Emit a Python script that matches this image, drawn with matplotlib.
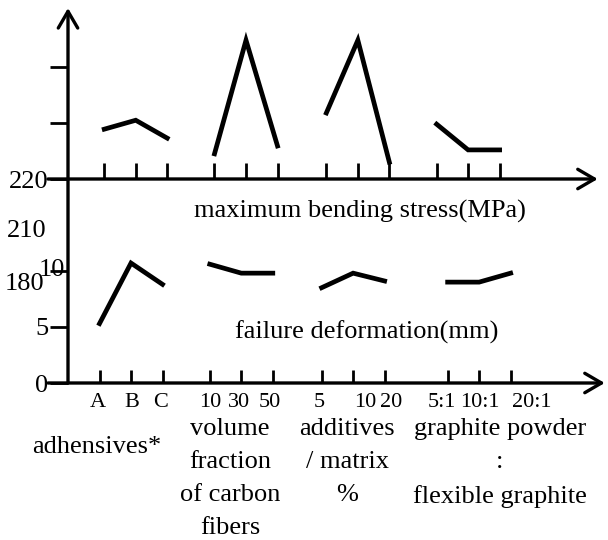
import matplotlib
matplotlib.use('Agg')
import matplotlib.pyplot as plt
from matplotlib.transforms import ScaledTranslation

plt.rcParams['font.family'] = ['Liberation Serif', 'DejaVu Serif']

# values
factor_names = ['adhensives*',
                'volume\nfraction\nof carbon\nfibers',
                'additives\n/ matrix\n%',
                'graphite powder\n:\nflexible graphite']
level_labels = ['A', 'B', 'C', '10', '30', '50', '5', '10', '20', '5:1', '10:1', '20:1']
bending_stress = [228.9, 230.5, 227.3, 224.5, 244.8, 225.9, 231.8, 244.8, 223.0, 229.8, 225.2, 225.2]  # MPa
failure_deform = [5.3, 10.7, 8.8, 10.6, 9.8, 9.8, 8.5, 9.8, 9.1, 9.0, 9.0, 9.8]  # mm

# layout (x in units of one level step)
top_start = [1.15, 4.65, 8.2, 11.7]
bot_start = [1.0, 4.5, 8.05, 12.05]
name_x = [0.92, 5.14, 8.86, 13.71]
name_drop = [46, 25, 25, 25]  # points below the axis
name_va = ['center', 'top', 'top', 'top']
# small sideways nudges of the level labels, in pixels (as in the scan)
label_nudge = [-2, 1, -2, 0, -2, -3, -2, 12, 6, -6, 1, 21]

W, H = 608, 540


def px_box(x0, y0, x1, y1):
    return [x0 / W, 1 - y1 / H, (x1 - x0) / W, (y1 - y0) / H]


fig = plt.figure(figsize=(W / 100, H / 100), dpi=100)
ax_top = fig.add_axes(px_box(68, 10, 608, 179))
ax_bot = fig.add_axes(px_box(68, 179, 608, 383))

for ax in (ax_top, ax_bot):
    for s in ax.spines.values():
        s.set_visible(False)
    ax.patch.set_alpha(0)
    ax.set_xlim(0, 17.14)

ax_top.set_ylim(220, 250.2)
ax_bot.set_ylim(0, 18.2)

top_x = [top_start[g] + k for g in range(4) for k in range(3)]
bot_x = [bot_start[g] + k for g in range(4) for k in range(3)]

# one short polyline per factor
for g in range(4):
    sl = slice(3 * g, 3 * g + 3)
    ax_top.plot(top_x[sl], bending_stress[sl], color='black', lw=3.4,
                solid_joinstyle='miter', clip_on=False)
    ax_bot.plot(bot_x[sl], failure_deform[sl], color='black', lw=3.4,
                solid_joinstyle='miter', clip_on=False)

# axis lines with arrow heads
arrow = dict(arrowstyle='->,head_length=0.6,head_width=0.35', lw=2.4,
             color='black', mutation_scale=20, shrinkA=0, shrinkB=0)
ax_top.annotate('', xy=(0.981, 0), xytext=(-0.037, 0), xycoords='axes fraction',
                arrowprops=arrow, annotation_clip=False)
ax_bot.annotate('', xy=(0.994, 0), xytext=(-0.037, 0), xycoords='axes fraction',
                arrowprops=arrow, annotation_clip=False)
ax_bot.annotate('', xy=(0, 1.838), xytext=(0, 0), xycoords='axes fraction',
                arrowprops=arrow, annotation_clip=False)

# ticks
ax_top.set_xticks(top_x)
ax_top.tick_params(axis='x', direction='in', length=11.5, width=2, labelbottom=False)
ax_top.set_yticks([220, 230, 240], ['220', '', ''])
ax_top.tick_params(axis='y', direction='out', length=13, width=2, pad=1, labelsize=19)

ax_bot.set_xticks(bot_x, level_labels)
ax_bot.tick_params(axis='x', direction='in', length=9.5, width=2, pad=7, labelsize=16)
for lab, dx in zip(ax_bot.get_xticklabels(), label_nudge):
    lab.set_transform(lab.get_transform() + ScaledTranslation(dx / 100, 0, fig.dpi_scale_trans))
ax_bot.set_yticks([0, 5, 10], ['0', '5', ''])
ax_bot.tick_params(axis='y', direction='out', length=13, width=2, pad=1, labelsize=19)

# leftover labels of the scanned axis
ytr = ax_bot.get_yaxis_transform()
ax_bot.text(-0.0056, 10.1, '10', transform=ytr, ha='right', va='center', fontsize=19)
ax_bot.text(-0.039, 13.6, '210', transform=ytr, ha='right', va='center', fontsize=19)
ax_bot.text(-0.043, 8.8, '180', transform=ytr, ha='right', va='center', fontsize=19)

# panel captions
ax_bot.text(0.54, 0.84, 'maximum bending stress(MPa)', transform=ax_bot.transAxes,
            ha='center', va='center', fontsize=19)
ax_bot.text(0.554, 0.25, 'failure deformation(mm)', transform=ax_bot.transAxes,
            ha='center', va='center', fontsize=19)

# factor names under the axis
xtr = ax_bot.get_xaxis_transform()
for name, x, dy, va in zip(factor_names, name_x, name_drop, name_va):
    ax_bot.annotate(name, xy=(x, 0), xycoords=xtr, xytext=(0, -dy),
                    textcoords='offset points', ha='center', va=va,
                    fontsize=19, linespacing=1.66, annotation_clip=False)

fig.savefig('out.png', dpi=100)
